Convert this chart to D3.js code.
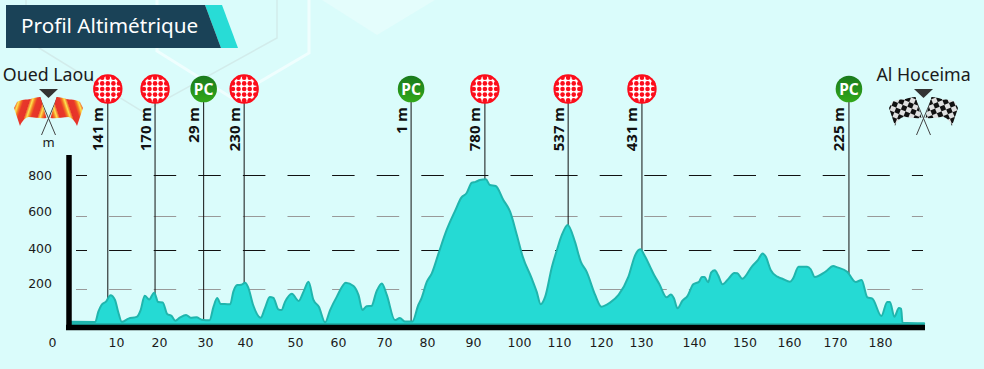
<!DOCTYPE html>
<html>
<head>
<meta charset="utf-8">
<script src="https://cdn.jsdelivr.net/npm/d3@7"></script>
<style>
    html, body { margin: 0; padding: 0; background: #dafcfb; }
    svg { display: block; }
    text { font-family: "Noto Sans", sans-serif; fill: #1a1a1a; }
    .Axis path { display: none; }
    .Axis text { font-size: 12.5px; font-family: "DejaVu Sans", sans-serif; fill: #1a1a1a; }
</style>
</head>
<body>
<script>
/* global d3 */

const title = "Profil Altimétrique";
const start_city = "Oued Laou";
const end_city = "Al Hoceima";

const profile_km = [0.4, 5.6, 6.3, 7, 8, 9, 10, 10.7, 11.5, 13, 14.8, 15.7, 16.6, 17.6, 18.7, 19.6, 20.6, 21.6, 22.6, 23.4,
    24.4, 25.8, 26.8, 28.1, 29.3, 31, 31.9, 32.7, 33.5, 34.4, 35.6, 36.3, 37.2, 38.1, 38.9, 39.6, 40.7, 42.4, 43.3, 44.4,
    45.2, 46.3, 47, 47.8, 49.3, 50.8, 51.9, 53, 54.1, 55.3, 56.7, 57.8, 59.3, 61.3, 63, 64.1, 65, 65.9, 67, 68.1,
    69.3, 70.4, 72.2, 73.3, 74.4, 76.1, 77.4, 78.1, 79.3, 80.4, 81.9, 83.7, 85.6, 87, 88.1, 89.3, 90.1, 91.1, 92.4, 93.3,
    94.6, 96.3, 97.8, 99.3, 100.6, 102.6, 103.7, 104.6, 105.6, 107.1, 108.2, 109.3, 110.6, 112.2, 113.5, 114.8, 116.7, 118.1, 120, 121.9,
    124.1, 125.6, 126.7, 127.8, 128.9, 129.8, 130.9, 132.6, 133.5, 134.2, 135, 136.1, 137.2, 138.5, 139.8, 140.4, 141, 141.8, 142.5, 143.3,
    144, 145, 146.4, 147.6, 148.3, 149.4, 151.6, 152.9, 153.9, 154.6, 155.7, 157.2, 158.3, 160, 160.7, 161.9, 163.8, 164.6, 165.5, 167.9,
    169.6, 170.5, 172.7, 174.6, 175.9, 177.2, 178.3, 180.3, 181.6, 182.2, 183.2, 184.2, 184.7, 185, 189.8];
const profile_elevation = [12, 11, 66, 102, 120, 154, 129, 66, 12, 29, 38, 75, 152, 132, 168, 118, 116, 54, 43, 18,
    34, 48, 34, 36, 23, 20, 93, 140, 107, 107, 106, 174, 209, 211, 222, 197, 102, 34, 84, 145,
    140, 79, 75, 120, 163, 124, 174, 227, 129, 93, 9, 75, 147, 222, 204, 156, 75, 95, 97, 174,
    218, 156, 21, 32, 14, 14, 102, 138, 227, 272, 379, 505, 609, 680, 702, 759, 763, 773, 777, 746,
    741, 666, 603, 478, 362, 245, 174, 106, 147, 308, 397, 478, 532, 442, 335, 281, 156, 93, 115, 156,
    254, 370, 401, 362, 308, 263, 218, 143, 158, 138, 84, 125, 150, 213, 227, 252, 252, 224, 277, 288,
    263, 213, 245, 274, 272, 243, 311, 344, 379, 362, 290, 254, 243, 227, 245, 308, 308, 294, 252, 281,
    311, 304, 281, 226, 236, 143, 136, 43, 118, 118, 39, 86, 82, 7, 4];

const pass_km = [8.4, 18.9, 29.7, 38.7, 75.8, 92.2, 110.7, 127.1, 173.1];
const pass_labels = ["141 m", "170 m", "29 m", "230 m", "1 m", "780 m", "537 m", "431 m", "225 m"];
const pass_types = ["climb", "climb", "pc", "climb", "pc", "climb", "climb", "climb", "pc"];

const x_ticks = [0, 10, 20, 30, 40, 50, 60, 70, 80, 90, 100, 110, 120, 130, 140, 150, 160, 170, 180];
const y_ticks = [800, 600, 400, 200];

// the printed profile is not regular, labels and dash rows sit off the true scale
const x_tick_nudge = [-18, 1, -1, 0, -5, 0, -2, -1, -3, -2, -1, -6, -9, -14, -6, -0.5, -1, 0, 0];
const y_tick_nudge = [0.7, -1, -1.5, -3];
const grid_levels = [800, 580, 400, 188];
const grid_colors = ["#111111", "#999999", "#111111", "#999999"];

const width = 984;
const height = 369;

const svg = d3.select("body").append("svg")
    .attr("width", width)
    .attr("height", height)
    .style("background", "#dafcfb");

const x_scale = d3.scaleLinear().domain([0, 190]).range([70, 925]);
const y_scale = d3.scaleLinear().domain([0, 800]).range([324, 175]);

const defs = svg.append("defs");

const init_defs = function () {
    const pc_gradient = defs.append("linearGradient")
        .attr("id", "PcFill")
        .attr("x1", 0).attr("y1", 0).attr("x2", 0).attr("y2", 1);
    pc_gradient.append("stop").attr("offset", 0).attr("stop-color", "#197a1d");
    pc_gradient.append("stop").attr("offset", 1).attr("stop-color", "#33a81a");

    const stripes = defs.append("linearGradient")
        .attr("id", "Stripes")
        .attr("gradientUnits", "userSpaceOnUse")
        .attr("x1", 0).attr("y1", 4).attr("x2", 12).attr("y2", 0)
        .attr("spreadMethod", "repeat");
    [["0", "#e5332a"], ["0.45", "#e8382a"], ["0.62", "#f47a22"], ["0.8", "#fde44f"], ["1", "#ee4a2a"]]
        .forEach(d => stripes.append("stop").attr("offset", d[0]).attr("stop-color", d[1]));

    const checks = defs.append("pattern")
        .attr("id", "Checks")
        .attr("patternUnits", "userSpaceOnUse")
        .attr("width", 10)
        .attr("height", 10)
        .attr("patternTransform", "rotate(-22)");
    checks.append("rect").attr("width", 10).attr("height", 10).attr("fill", "#e0e0e0");
    checks.append("rect").attr("width", 5).attr("height", 5).attr("fill", "#111111");
    checks.append("rect").attr("x", 5).attr("y", 5).attr("width", 5).attr("height", 5).attr("fill", "#111111");
};

const draw_background = function () {
    const line = d3.line();
    svg.append("path")
        .attr("d", line([[26, 0], [26, 40], [143, 112], [277, 38], [277, 0]]))
        .attr("fill", "none")
        .attr("stroke", "#d2eceb")
        .attr("stroke-width", 1.5);
    svg.append("path")
        .attr("d", line([[157, 0], [157, 51], [232, 98], [309, 53], [309, 0]]))
        .attr("fill", "none")
        .attr("stroke", "#effefe")
        .attr("stroke-width", 3);
    svg.append("path")
        .attr("d", line([[322, 0], [377, 35], [435, 0]]))
        .attr("fill", "#e4fdfc");
};

const draw_banner = function () {
    const line = d3.line();
    svg.append("path")
        .attr("d", line([[205, 5], [222, 5], [238, 48], [221, 48]]))
        .attr("fill", "#28dcd6");
    svg.append("path")
        .attr("d", line([[6, 5], [205, 5], [221, 48], [6, 48]]))
        .attr("fill", "#1a4257");
    svg.append("text")
        .attr("x", 21)
        .attr("y", 33)
        .style("font-size", "20.7px")
        .style("fill", "#ffffff")
        .text(title);
};

const draw_grid = function () {
    svg.append("g").selectAll("line")
        .data(grid_levels)
        .join("line")
        .attr("x1", 76)
        .attr("x2", 923)
        .attr("y1", d => Math.round(y_scale(d)) + 0.5)
        .attr("y2", d => Math.round(y_scale(d)) + 0.5)
        .attr("stroke", (d, i) => grid_colors[i])
        .attr("stroke-width", 1)
        .attr("stroke-dasharray", "22.5 22.1")
        .attr("stroke-dashoffset", 11.5);
};

const draw_pass_lines = function () {
    svg.append("g").selectAll("line")
        .data(pass_km)
        .join("line")
        .attr("x1", d => x_scale(d))
        .attr("x2", d => x_scale(d))
        .attr("y1", 89)
        .attr("y2", y_scale(0))
        .attr("stroke", "#111111")
        .attr("stroke-width", 1);
};

const draw_profile = function () {
    const points = profile_km.map((km, i) => [km, profile_elevation[i]]);
    const area = d3.area()
        .x(d => x_scale(d[0]))
        .y0(y_scale(0))
        .y1(d => y_scale(d[1]))
        .curve(d3.curveMonotoneX);
    svg.append("path")
        .attr("d", area(points))
        .attr("fill", "#25dad4")
        .attr("stroke", "#20b5ad")
        .attr("stroke-width", 2)
        .attr("stroke-linejoin", "round");
};

const draw_axes = function () {
    svg.append("line")
        .attr("x1", 69)
        .attr("x2", 69)
        .attr("y1", 155)
        .attr("y2", 330)
        .attr("stroke", "#000000")
        .attr("stroke-width", 5.5);
    svg.append("line")
        .attr("x1", 66)
        .attr("x2", 925)
        .attr("y1", 327.5)
        .attr("y2", 327.5)
        .attr("stroke", "#000000")
        .attr("stroke-width", 5.5);

    const bottom = svg.append("g")
        .attr("class", "Axis")
        .attr("transform", "translate(0, 331)")
        .call(d3.axisBottom(x_scale).tickValues(x_ticks).tickSize(0).tickPadding(7));
    bottom.selectAll("text").attr("dx", (d, i) => x_tick_nudge[i]);

    const left = svg.append("g")
        .attr("class", "Axis")
        .attr("transform", "translate(52, 0)")
        .call(d3.axisLeft(y_scale).tickValues(y_ticks).tickSize(0).tickPadding(0));
    left.selectAll("text").attr("transform", (d, i) => `translate(0, ${y_tick_nudge[i]})`);

    svg.append("text")
        .attr("x", 48.5)
        .attr("y", 147)
        .attr("text-anchor", "middle")
        .style("font-size", "13px")
        .text("m");
};

const draw_marker = function (group, type) {
    if (type === "pc") {
        group.append("circle").attr("r", 13.3).attr("fill", "url(#PcFill)");
        group.append("text")
            .attr("text-anchor", "middle")
            .attr("y", 5.5)
            .style("font-size", "15.5px")
            .style("font-weight", "bold")
            .style("fill", "#ffffff")
            .text("PC");
        return;
    }
    group.append("circle").attr("r", 14.7).attr("fill", "#fc0d1b");
    group.append("circle").attr("r", 12.6).attr("fill", "#ffffff");
    const offsets = d3.range(-2, 3);
    offsets.forEach(row => {
        offsets.forEach(col => {
            if (Math.abs(row) + Math.abs(col) < 4) {
                group.append("circle")
                    .attr("cx", col * 5.6)
                    .attr("cy", row * 5.6)
                    .attr("r", 2.3)
                    .attr("fill", "#fc0d1b");
            }
        });
    });
};

const draw_passes = function () {
    const groups = svg.append("g").selectAll("g")
        .data(pass_km)
        .join("g")
        .attr("transform", d => `translate(${x_scale(d)}, 89)`);
    groups.each(function (d, i) {
        draw_marker(d3.select(this), pass_types[i]);
    });
    groups.append("text")
        .attr("transform", "translate(-4.5, 18) rotate(-90)")
        .attr("text-anchor", "end")
        .style("font-size", "15px")
        .style("font-weight", "bold")
        .style("fill", "#111111")
        .text((d, i) => pass_labels[i]);
};

const draw_flags = function (center_x, name, fill) {
    const flags = svg.append("g").attr("transform", `translate(${center_x}, 0)`);
    flags.append("text")
        .attr("text-anchor", "middle")
        .attr("y", 81)
        .style("font-size", "17.8px")
        .text(name);
    flags.append("path")
        .attr("d", "M-9.5,89H9.5L0,98Z")
        .attr("fill", "#333333");

    [-1, 1].forEach(side => {
        const flag = flags.append("g").attr("transform", `scale(${-side}, 1)`);
        flag.append("line")
            .attr("x1", 9)
            .attr("y1", 97)
            .attr("x2", -7)
            .attr("y2", 135)
            .attr("stroke", "#444444")
            .attr("stroke-width", 1);
        flag.append("path")
            .attr("d", "M34.5,108L31.5,102C27,99 22,100 18,99C15,98 12,97 8,97L2,118C8,119 14,117 20,117C24,118 27,122 28.5,126Z")
            .attr("fill", fill);
    });
};

init_defs();
draw_background();
draw_banner();
draw_grid();
draw_pass_lines();
draw_profile();
draw_axes();
draw_passes();
draw_flags(48.5, start_city, "url(#Stripes)");
draw_flags(923.5, end_city, "url(#Checks)");
</script>
</body>
</html>
